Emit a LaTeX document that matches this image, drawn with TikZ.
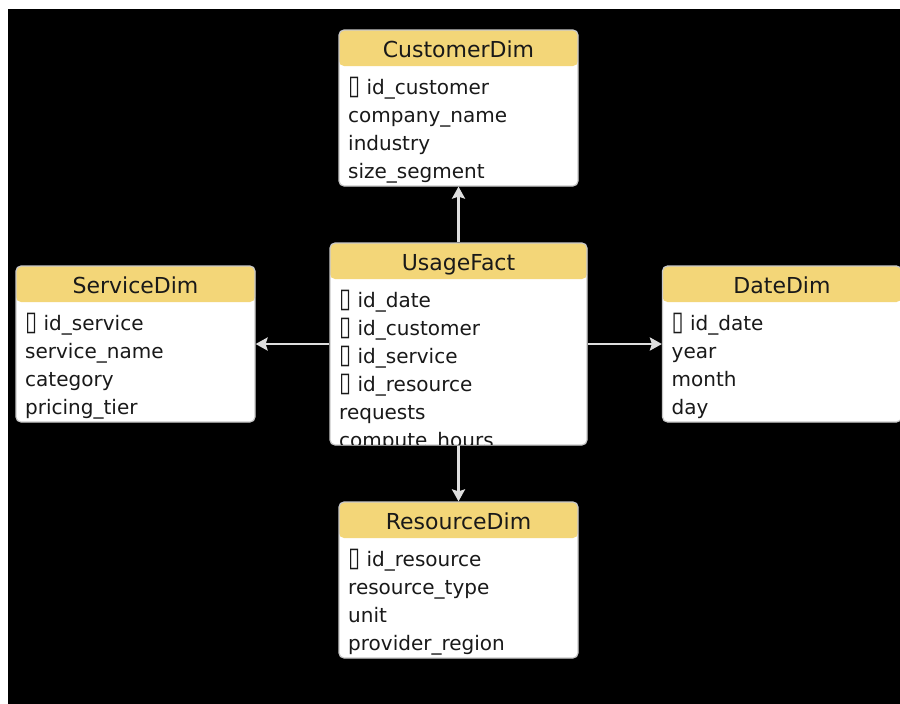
\documentclass[tikz,border=0pt]{standalone}
\usepackage{fontspec}
\usepackage{graphicx}
\setmainfont{DejaVu Sans}
\usetikzlibrary{arrows.meta, positioning}
\definecolor{headcolor}{RGB}{243, 214, 120}
\definecolor{linecolor}{RGB}{200, 200, 200}
\definecolor{arrowcolor}{RGB}{222, 222, 222}
\definecolor{textcolor}{RGB}{25, 25, 25}
\newcommand{\keyicon}{\scalebox{1.1}[1.35]{▯}}

\begin{document}
\begin{tikzpicture}[
    x=1pt, y=-1pt,
    tablebox/.style={draw=linecolor, line width=1.2pt, fill=white, rounded corners=5pt, minimum width=239pt, minimum height=156pt, inner sep=0pt,
        path picture={\fill[headcolor] (path picture bounding box.north west) rectangle ([yshift=-36pt]path picture bounding box.north east);}},
    tabletitle/.style={anchor=base, inner sep=0pt, text=textcolor, font=\fontsize{22}{26}\selectfont},
    fieldtext/.style={anchor=base west, inner sep=0pt, text=textcolor, font=\fontsize{20}{24}\selectfont},
    arrow/.style={-{Stealth[length=12pt, width=13pt, inset=2pt]}, line width=2.6pt, arrowcolor}
]
    % Canvas
    \fill[white] (0, 0) rectangle (900, 704);
    \fill[black] (8, 9) rectangle (900, 704);
    \useasboundingbox (0, 0) rectangle (900, 704);

    % Tables
    \node[tablebox] (cust) at (458.5, 108) {};
    \node[tablebox, minimum width=257pt, minimum height=202pt] (usage) at (458.5, 344) {};
    \node[tablebox] (serv) at (135.5, 344) {};
    \node[tablebox] (date) at (782, 344) {};
    \node[tablebox] (res) at (458.5, 580) {};

    % Arrows between tables
    \draw[arrow] (usage) -- (cust);
    \draw[arrow] (usage) -- (serv);
    \draw[arrow] (usage) -- (date);
    \draw[arrow] (usage) -- (res);

    % CustomerDim
    \node[tabletitle] (custtitle) at (458.5, 57) {CustomerDim};
    \node[fieldtext] (cust1) at (348, 94) {\keyicon{} id\_customer};
    \node[fieldtext] (cust2) at (348, 122) {company\_name};
    \node[fieldtext] (cust3) at (348, 150) {industry};
    \node[fieldtext] (cust4) at (348, 178) {size\_segment};

    % UsageFact
    \node[tabletitle] (usagetitle) at (458.5, 270) {UsageFact};
    \begin{scope}
        \clip (331, 279) rectangle (586, 444);
        \node[fieldtext] (usage1) at (339, 307) {\keyicon{} id\_date};
        \node[fieldtext] (usage2) at (339, 335) {\keyicon{} id\_customer};
        \node[fieldtext] (usage3) at (339, 363) {\keyicon{} id\_service};
        \node[fieldtext] (usage4) at (339, 391) {\keyicon{} id\_resource};
        \node[fieldtext] (usage5) at (339, 419) {requests};
        \node[fieldtext] (usage6) at (339, 447) {compute\_hours};
    \end{scope}

    % ServiceDim
    \node[tabletitle] (servtitle) at (135.5, 293) {ServiceDim};
    \node[fieldtext] (serv1) at (25, 330) {\keyicon{} id\_service};
    \node[fieldtext] (serv2) at (25, 358) {service\_name};
    \node[fieldtext] (serv3) at (25, 386) {category};
    \node[fieldtext] (serv4) at (25, 414) {pricing\_tier};

    % DateDim
    \node[tabletitle] (datetitle) at (782, 293) {DateDim};
    \node[fieldtext] (date1) at (671.5, 330) {\keyicon{} id\_date};
    \node[fieldtext] (date2) at (671.5, 358) {year};
    \node[fieldtext] (date3) at (671.5, 386) {month};
    \node[fieldtext] (date4) at (671.5, 414) {day};

    % ResourceDim
    \node[tabletitle] (restitle) at (458.5, 529) {ResourceDim};
    \node[fieldtext] (res1) at (348, 566) {\keyicon{} id\_resource};
    \node[fieldtext] (res2) at (348, 594) {resource\_type};
    \node[fieldtext] (res3) at (348, 622) {unit};
    \node[fieldtext] (res4) at (348, 650) {provider\_region};
\end{tikzpicture}
\end{document}
